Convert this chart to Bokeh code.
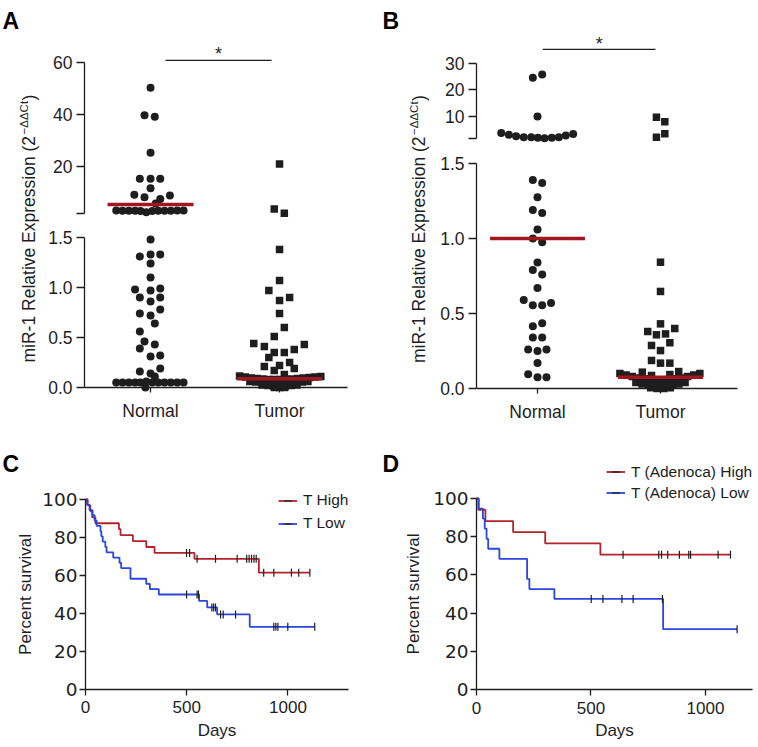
import numpy as np
from bokeh.plotting import figure
from bokeh.layouts import column, row
from bokeh.models import (Range1d, LinearAxis, FixedTicker, NumeralTickFormatter,
                          CustomJSTickFormatter, Label, Legend, LegendItem)
from bokeh.core.properties import value
from bokeh.embed import file_html
from bokeh.resources import INLINE

FONT = "Liberation Sans"
WIDE_FONT = "DejaVu Sans"
INK = "#1e1e1e"
RED = "#b3232d"
BLUE = "#2a46dc"
MED = "#a3151f"

# ---------------- data ----------------
CATEGORIES = ["Normal", "Tumor"]
Y_TITLE_MAIN = "miR-1 Relative Expression (2"
Y_TITLE_SUP = "\u2212\u0394\u0394Ct"
Y_TITLE_END = ")"

# Panel A (x offsets within each column, values)
A_NORMAL_DX = [0.0, -0.047, 0.033, 0.0, -0.083, 0.0, 0.075, 0.0, -0.126, -0.047, 0.075, 0.15, 0.04,
               -0.266, -0.217, -0.168, -0.12, -0.078, -0.033, 0.013, 0.06, 0.108, 0.157, 0.207, 0.256,
               0.0, -0.083, 0.0, 0.075, 0.0, 0.0, -0.12, 0.0, 0.075, -0.083, 0.0, 0.075, -0.083, 0.0, 0.075,
               0.033, -0.083, -0.047, -0.083, 0.033, 0.0, 0.075, -0.083, 0.0, 0.075, 0.033,
               -0.266, -0.217, -0.168, -0.12, -0.078, -0.033, 0.013, 0.06, 0.108, 0.157, 0.207, 0.256, -0.04]
A_NORMAL_Y = [50.3, 39.7, 39.1, 25.3, 15.3, 15.3, 15.3, 11.6, 9.1, 8.2, 7.5, 8.8, 5.8,
              3.1, 3.0, 3.0, 3.0, 2.9, 2.4, 2.9, 3.0, 3.0, 3.0, 3.1, 3.1,
              1.48, 1.31, 1.33, 1.33, 1.24, 1.10, 0.98, 0.97, 0.99, 0.90, 0.86, 0.90, 0.74, 0.72, 0.78,
              0.64, 0.56, 0.46, 0.39, 0.43, 0.31, 0.32, 0.16, 0.14, 0.19, 0.11,
              0.05, 0.05, 0.05, 0.05, 0.05, 0.06, 0.05, 0.05, 0.05, 0.05, 0.05, 0.05, 0.0]
A_TUMOR_DX = [0.0, -0.041, 0.037,
              0.0, 0.0, -0.083, 0.0, 0.078, 0.0, 0.037, -0.041, -0.2, -0.118, -0.041, 0.037, 0.114, 0.192,
              -0.083, -0.118, 0.0, 0.078, 0.114, -0.041, 0.037,
              -0.31, -0.265, -0.22, -0.175, -0.13, -0.085, -0.04, 0.005, 0.05, 0.095, 0.14, 0.185, 0.23, 0.275, 0.32,
              -0.23, -0.185, -0.14, -0.095, -0.05, -0.005, 0.04, 0.085, 0.13, 0.175, 0.22,
              -0.135, -0.09, -0.045, 0.0, 0.045, 0.09, 0.135,
              -0.04, 0.0, 0.04]
A_TUMOR_Y = [21.0, 3.7, 2.0,
             1.38, 1.07, 0.97, 0.87, 0.90, 0.74, 0.60, 0.51, 0.44, 0.41, 0.35, 0.35, 0.38, 0.43,
             0.30, 0.21, 0.22, 0.25, 0.19, 0.17, 0.13,
             0.115, 0.105, 0.095, 0.09, 0.085, 0.08, 0.08, 0.08, 0.08, 0.085, 0.09, 0.095, 0.10, 0.105, 0.11,
             0.06, 0.055, 0.05, 0.045, 0.04, 0.04, 0.04, 0.045, 0.05, 0.055, 0.06,
             0.025, 0.02, 0.015, 0.01, 0.015, 0.02, 0.025,
             0.0, 0.0, 0.0]
A_MEDIANS = [5.4, 0.087]
A_LOW_TICKS = [0.0, 0.5, 1.0, 1.5]
A_UP_TICKS = [20, 40, 60]
A_BREAK = 2.0

# Panel B
B_NORMAL_DX = [-0.038, 0.038, 0.0,
               -0.295, -0.233, -0.174, -0.112, -0.051, 0.003, 0.057, 0.116, 0.173, 0.230, 0.290,
               -0.038, 0.038, 0.0, -0.038, 0.038, 0.0, -0.038, 0.038, 0.0, -0.038, 0.038, 0.0,
               -0.112, -0.038, 0.038, 0.11, -0.038, 0.038, -0.038, 0.038, -0.076, 0.0, 0.073, 0.0,
               -0.076, 0.0, 0.073]
B_NORMAL_Y = [24.6, 25.8, 10.0,
              3.8, 3.1, 2.5, 2.2, 2.2, 2.0, 1.8, 2.0, 2.2, 2.8, 3.4,
              1.39, 1.37, 1.275, 1.19, 1.17, 1.06, 1.00, 0.975, 0.84, 0.79, 0.76, 0.67,
              0.59, 0.555, 0.555, 0.57, 0.415, 0.435, 0.34, 0.34, 0.26, 0.25, 0.26, 0.17,
              0.095, 0.075, 0.075]
B_TUMOR_DX = [-0.033, 0.035, -0.033, 0.035,
              0.0, 0.0, 0.0, -0.104, -0.033, 0.041, 0.116, -0.073, 0.076, 0.0, -0.073, 0.0, 0.076,
              -0.148, -0.073, 0.076, 0.148, 0.0,
              -0.33, -0.28, -0.23, -0.18, -0.13, -0.08, -0.03, 0.02, 0.07, 0.12, 0.17, 0.22, 0.27, 0.32,
              -0.2, -0.15, -0.1, -0.05, 0.0, 0.05, 0.1, 0.15, 0.2,
              -0.08, -0.027, 0.027, 0.08]
B_TUMOR_Y = [9.7, 8.0, 2.2, 3.5,
             0.842, 0.647, 0.431, 0.38, 0.358, 0.364, 0.40, 0.287, 0.305, 0.253, 0.187, 0.169, 0.169,
             0.109, 0.087, 0.093, 0.113, 0.058,
             0.10, 0.09, 0.08, 0.07, 0.065, 0.06, 0.055, 0.055, 0.06, 0.065, 0.07, 0.08, 0.09, 0.10,
             0.04, 0.03, 0.025, 0.02, 0.02, 0.02, 0.025, 0.03, 0.04,
             0.005, 0.0, 0.0, 0.005]
B_MEDIANS = [1.0, 0.075]
B_LOW_TICKS = [0.0, 0.5, 1.0, 1.5]
B_UP_TICKS = [10, 20, 30]
B_BREAK = 1.7

# Panels C and D (Kaplan-Meier)
DAY_TICKS = [0, 500, 1000]
PCT_TICKS = [0, 20, 40, 60, 80, 100]
C_HIGH_DAYS = [0, 11, 24, 33, 49, 165, 173, 234, 300, 341, 538, 856, 1108]
C_HIGH_SURV = [100, 96.9, 93.8, 90.6, 87.5, 84.4, 81.3, 78.1, 75.0, 71.9, 68.8, 61.5, 61.5]
C_HIGH_CENS_DAYS = [499, 514, 551, 642, 749, 796, 808, 820, 832, 843, 880, 930, 1017, 1053, 1108]
C_HIGH_CENS_SURV = [71.9, 71.9, 68.8, 68.8, 68.8, 68.8, 68.8, 68.8, 68.8, 68.8, 61.5, 61.5, 61.5, 61.5, 61.5]
C_LOW_DAYS = [0, 8, 20, 35, 45, 55, 74, 78, 85, 98, 104, 137, 168, 176, 222, 300, 318, 362,
              561, 601, 650, 811, 1132]
C_LOW_SURV = [100, 97.2, 94.4, 91.7, 88.9, 86.1, 83.3, 80.6, 77.8, 75.0, 72.2, 69.4, 66.7, 63.9,
              58.3, 55.6, 52.8, 50.0, 46.6, 43.2, 39.5, 33.0, 33.0]
C_LOW_CENS_DAYS = [499, 551, 558, 624, 633, 642, 667, 680, 741, 930, 940, 950, 999, 1132]
C_LOW_CENS_SURV = [50.0, 50.0, 50.0, 43.2, 43.2, 43.2, 39.5, 39.5, 39.5, 33.0, 33.0, 33.0, 33.0, 33.0]

D_HIGH_DAYS = [0, 8, 39, 160, 300, 541, 1109]
D_HIGH_SURV = [100, 94.1, 88.2, 82.4, 76.5, 70.6, 70.6]
D_HIGH_CENS_DAYS = [640, 796, 808, 835, 886, 927, 935, 1055, 1109]
D_HIGH_CENS_SURV = [70.6, 70.6, 70.6, 70.6, 70.6, 70.6, 70.6, 70.6, 70.6]
D_LOW_DAYS = [0, 10, 28, 36, 44, 51, 100, 221, 231, 340, 815, 1138]
D_LOW_SURV = [100, 94.7, 89.5, 84.2, 78.9, 73.7, 68.4, 57.9, 52.6, 47.4, 31.6, 31.6]
D_LOW_CENS_DAYS = [501, 552, 635, 684, 812, 1138]
D_LOW_CENS_SURV = [47.4, 47.4, 47.4, 47.4, 47.4, 31.6]


# ---------------- helpers ----------------
def style_axis(ax, tick_out=6, label_standoff=3, tick_font=FONT, tick_size="17px"):
    ax.axis_line_color = INK
    ax.axis_line_width = 1.3
    ax.major_tick_line_color = INK
    ax.major_tick_line_width = 1.3
    ax.major_tick_out = tick_out
    ax.major_tick_in = 0
    ax.minor_tick_line_color = None
    ax.major_label_standoff = label_standoff
    ax.major_label_text_font = tick_font
    ax.major_label_text_font_size = tick_size
    ax.major_label_text_color = INK
    ax.axis_label_text_font = FONT
    ax.axis_label_text_font_size = "17px"
    ax.axis_label_text_font_style = "normal"
    ax.axis_label_text_color = INK


def base_figure(g):
    # the plotting frame covers the whole figure; axes sit at fixed data locations
    p = figure(width=g["w"], height=g["h"], x_range=Range1d(*g["xr"]), y_range=Range1d(*g["yr"]),
               x_axis_type=None, y_axis_type=None, output_backend="svg",
               toolbar_location=None, min_border=0)
    p.outline_line_color = None
    p.background_fill_color = "white"
    p.border_fill_color = "white"
    return p


def letter_label(p, text, x, y):
    p.add_layout(Label(x=x, y=y, text=text, text_font=FONT, text_font_size="23px",
                       text_font_style="bold", text_align="left", text_baseline="top",
                       text_color="black"))


def dot_panel(letter, n_dx, n_y, t_dx, t_y, medians, brk, low_ticks, up_ticks, g):
    p = base_figure(g)
    p.extra_y_ranges = {"up": Range1d(*g["yr_up"])}
    ax_x, ax_end = g["axis_x"]

    low_ax = LinearAxis(ticker=FixedTicker(ticks=low_ticks),
                        formatter=NumeralTickFormatter(format="0.0"),
                        bounds=(low_ticks[0], low_ticks[-1]), fixed_location=ax_x)
    up_ax = LinearAxis(y_range_name="up", ticker=FixedTicker(ticks=[brk] + up_ticks),
                       formatter=CustomJSTickFormatter(
                           code="return tick < %f ? '' : tick.toFixed(0);" % (up_ticks[0] - 1)),
                       bounds=(brk, up_ticks[-1]), fixed_location=ax_x)
    x_ax = LinearAxis(ticker=FixedTicker(ticks=[1, 2]),
                      major_label_overrides={i + 1: c for i, c in enumerate(CATEGORIES)},
                      bounds=(ax_x, ax_end), fixed_location=0)
    style_axis(low_ax, tick_out=8, label_standoff=4, tick_size="17.5px")
    style_axis(up_ax, tick_out=8, label_standoff=4, tick_size="17.5px")
    style_axis(x_ax, tick_out=5, label_standoff=8, tick_size="17.5px")
    p.add_layout(low_ax, "left")
    p.add_layout(up_ax, "left")
    p.add_layout(x_ax, "below")

    for k, (dx, ys, marker, size) in enumerate([(n_dx, n_y, "circle", 8.0),
                                                 (t_dx, t_y, "square", 7.5)]):
        xs = [k + 1 + d for d in dx]
        lo = [(x, y) for x, y in zip(xs, ys) if y < brk]
        hi = [(x, y) for x, y in zip(xs, ys) if y >= brk]
        p.scatter([a for a, _ in lo], [b for _, b in lo], marker=marker, size=size,
                  fill_color=INK, line_color=None)
        p.scatter([a for a, _ in hi], [b for _, b in hi], marker=marker, size=size,
                  fill_color=INK, line_color=None, y_range_name="up")

    for k, m in enumerate(medians):
        h = g["med_half"][k]
        kw = {"y_range_name": "up"} if m >= brk else {}
        p.segment(x0=[k + 1 - h], x1=[k + 1 + h], y0=[m], y1=[m],
                  line_color=MED, line_width=3.5, **kw)

    sx0, sx1, sy, stary = g["sig"]
    p.segment(x0=[sx0], x1=[sx1], y0=[sy], y1=[sy], line_color=INK, line_width=1.2,
              y_range_name="up")
    p.text(x=[(sx0 + sx1) / 2], y=[stary], text=["*"], text_font=value(FONT),
           text_font_size="18px", text_align="center", text_baseline="middle",
           text_color=INK, y_range_name="up")

    lx, ly = g["ylab"]
    common = dict(angle=np.pi / 2, text_align="left", text_baseline="middle",
                  text_font=FONT, text_color=INK)
    p.add_layout(Label(x=lx, y=ly, text=Y_TITLE_MAIN, text_font_size="17.5px", **common))
    p.add_layout(Label(x=lx, y=ly, x_offset=-5, y_offset=228, text=Y_TITLE_SUP,
                       text_font_size="11.5px", **common))
    p.add_layout(Label(x=lx, y=ly, y_offset=262, text=Y_TITLE_END,
                       text_font_size="17.5px", **common))
    letter_label(p, letter, *g["letter"])
    return p


def km_panel(letter, series, g):
    p = base_figure(g)
    xa = LinearAxis(ticker=FixedTicker(ticks=DAY_TICKS), axis_label="Days",
                    bounds=(0, g["xend"]), fixed_location=0)
    ya = LinearAxis(ticker=FixedTicker(ticks=PCT_TICKS), axis_label="Percent survival",
                    bounds=(0, 100), fixed_location=0)
    style_axis(xa, tick_out=6, label_standoff=6)
    style_axis(ya, tick_out=6, label_standoff=2, tick_font=WIDE_FONT, tick_size="18.5px")
    xa.axis_label_standoff = 4
    ya.axis_label_standoff = g["ylab_standoff"]
    p.add_layout(xa, "below")
    p.add_layout(ya, "left")

    items = []
    for s in series:
        r1 = p.step(x=s["days"], y=s["surv"], mode="after", line_color=s["color"], line_width=1.8)
        r2 = p.scatter(x=s["cd"], y=s["cs"], marker="dash", angle=np.pi / 2, size=8,
                       line_color=INK, line_width=1.2)
        items.append(LegendItem(label=s["label"], renderers=[r1, r2]))
    leg = Legend(items=items, location=g["leg"], padding=0, margin=0,
                 spacing=g["leg_spacing"], border_line_color=None, background_fill_alpha=0,
                 glyph_width=19, glyph_height=21, label_height=21, label_standoff=6,
                 label_text_font=FONT, label_text_font_size="15.5px", label_text_color=INK)
    p.add_layout(leg)
    letter_label(p, letter, *g["letter"])
    return p


# ---------------- panels (frame = whole figure) ----------------
gA = dict(w=380, h=445, xr=(-0.1632, 2.7826), yr=(-0.58, 3.87), yr_up=(-87.31, 83.85),
          axis_x=(0.488, 2.527), med_half=[0.333, 0.33], sig=(1.116, 1.938, 60.8, 63.3),
          ylab=(0.0539, 0.25), letter=(-0.1477, 3.80))
gB = dict(w=377, h=445, xr=(-0.2765, 2.7886), yr=(-0.38, 2.5867), yr_up=(-114.15, 53.77),
          axis_x=(0.504, 2.626), med_half=[0.386, 0.345], sig=(1.043, 1.959, 35.3, 37.4),
          ylab=(0.0325, 0.17), letter=(-0.2602, 2.54))
gC = dict(w=380, h=301, xr=(-419.75, 1456.8), yr=(-30.0, 128.42), xend=1300, ylab_standoff=4,
          leg=(278, 212.5), leg_spacing=2, letter=(-409.9, 125.7))
gD = dict(w=377, h=301, xr=(-419.2, 1227.1), yr=(-29.84, 127.75), xend=1205, ylab_standoff=7,
          leg=(226, 243), leg_spacing=0, letter=(-410.5, 125.1))

pA = dot_panel("A", A_NORMAL_DX, A_NORMAL_Y, A_TUMOR_DX, A_TUMOR_Y, A_MEDIANS, A_BREAK,
               A_LOW_TICKS, A_UP_TICKS, gA)
pB = dot_panel("B", B_NORMAL_DX, B_NORMAL_Y, B_TUMOR_DX, B_TUMOR_Y, B_MEDIANS, B_BREAK,
               B_LOW_TICKS, B_UP_TICKS, gB)
pC = km_panel("C", [
    dict(days=C_HIGH_DAYS, surv=C_HIGH_SURV, cd=C_HIGH_CENS_DAYS, cs=C_HIGH_CENS_SURV,
         color=RED, label="T High"),
    dict(days=C_LOW_DAYS, surv=C_LOW_SURV, cd=C_LOW_CENS_DAYS, cs=C_LOW_CENS_SURV,
         color=BLUE, label="T Low")], gC)
pD = km_panel("D", [
    dict(days=D_HIGH_DAYS, surv=D_HIGH_SURV, cd=D_HIGH_CENS_DAYS, cs=D_HIGH_CENS_SURV,
         color=RED, label="T (Adenoca) High"),
    dict(days=D_LOW_DAYS, surv=D_LOW_SURV, cd=D_LOW_CENS_DAYS, cs=D_LOW_CENS_SURV,
         color=BLUE, label="T (Adenoca) Low")], gD)

layout = column(row(pA, pB), row(pC, pD))
open("out.html", "w").write(file_html(layout, INLINE))
